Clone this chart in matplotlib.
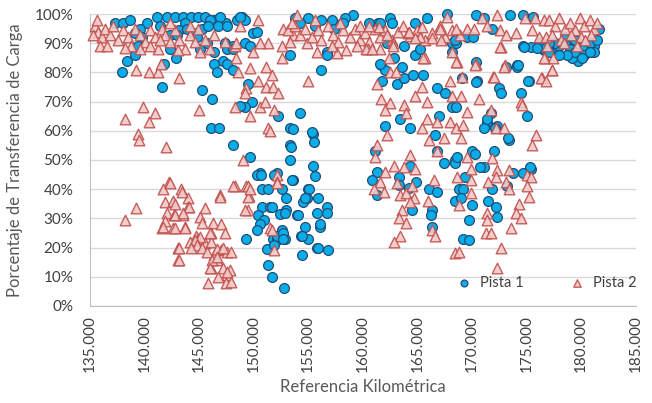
import matplotlib
matplotlib.use("Agg")
import matplotlib.pyplot as plt
from matplotlib.ticker import PercentFormatter, FuncFormatter

# Pista 1 (km in thousands, % transfer)
p1_km = [137.3,138.0,138.7,140.2,141.1,142.1,142.8,143.5,144.3,144.9,146.4,147.5,148.5,148.9,145.5,146.0,146.9,143.7,141.4,139.6,139.1,
         142.3,143.2,143.9,144.4,144.8,145.3,145.8,146.7,147.6,145.1,145.7,146.4,147.4,148.1,139.8,139.4,142.3,143.0,147.2,147.6,146.4,146.6,148.1,147.6,148.1,149.2,149.9,150.3,149.7,149.2,148.7,
         137.9,138.4,139.1,141.6,141.8,142.9,145.3,146.2,146.1,146.8,148.1,149.7,150.6,150.3,150.8,151.3,152.1,153.3,153.3,153.3,153.6,154.2,152.2,149.8,149.2,148.7,149.5,155.4,155.5,155.4,155.6,155.0,156.2,156.7,
         150.7,151.9,153.5,152.6,153.0,155.1,154.9,154.5,155.9,150.8,151.5,153.0,152.4,150.4,150.9,150.6,150.3,152.6,154.0,155.8,156.7,156.7,156.1,154.7,154.3,155.0,149.3,151.2,151.8,152.9,152.1,151.9,152.1,155.8,156.8,154.4,151.3,151.7,152.8,
         153.6,155.3,153.4,154.7,151.7,152.9,154.1,156.1,152.7,152.7,154.4,155.9,
         153.8,155.0,156.2,157.2,158.1,159.1,153.3,156.7,154.2,155.6,158.4,157.4,
         158.2,161.4,162.5,162.7,164.8,165.9,167.7,170.4,173.5,174.7,175.6,162.2,163.8,164.8,165.2,168.4,169.5,170.1,161.7,162.0,163.6,163.1,163.8,164.6,165.5,166.8,167.5,168.2,170.5,174.1,
         161.6,160.6,168.2,168.2,161.6,162.9,161.8,163.4,164.3,162.0,167.0,166.6,166.8,167.4,168.4,161.1,161.3,160.8,161.3,163.3,164.3,163.3,164.2,164.9,164.5,166.1,166.8,166.3,166.2,166.3,168.4,168.4,
         171.1,171.8,174.7,175.4,176.6,168.5,170.4,174.1,173.1,169.1,170.4,172.5,172.7,175.2,174.5,175.0,168.5,171.7,171.4,171.1,172.3,173.4,170.0,170.3,172.0,168.6,171.1,173.8,174.7,175.4,173.2,171.8,169.4,168.8,169.2,169.0,170.0,171.5,172.2,172.3,169.7,169.2,169.7,
         181.2,181.2,179.7,179.2,179.9,177.8,176.5,174.8,176.2,174.2,175.1,173.3,172.1,171.4,168.4,170.7,175.3,
         178.5,179.0,179.4,180.3,180.8,180.3,180.8,178.0,177.6,177.1,176.7,178.5,179.4,181.5,181.6,178.7,180.1,178.0,177.1,176.0]
p1_pct = [97,97,98,97,99,99,99,99,99,99,98,97,98,99,99,98,99,97,96,95,93.5,
          93,94.5,95,93.5,92,95,96,96,96,88,90,87,90,89,92,89,88,93,84,83,83,80,81,88,88,90,93.5,94,89,98,99,
          80,84,86,75,83,85,74,71,61,61,55,51,45.5,45,40,40,45.5,61,55,50,43,66,65,70,68,68.5,76,59,56,48,44.5,40,81,87,
          45,45,43,40,37,40,37,35.5,37,34,34,33,31.5,31,29.5,28,26,26,31,32,34,32,27,27,24,23,23,19.5,23,23,22.6,21,24,20,19,17.5,14,10,6,
          60.6,59.6,54.5,37,34,32,31,28,25,23,24,20,
          98.6,98.6,98,98,97,99.6,86,86,97,96,98.6,95,
          97,97,98.6,97,97,98.6,100,99.6,99.6,99.6,99,90,89,86,88,90,92,92,82.5,81,82,76,78,79,79,74.6,73,68,77,82.5,
          97,97,90,87,83,85,77,64,61,61.6,65,58.5,53,49,50,53,46,43,38,44,48,41.4,40.4,42.5,33,40,39,33,31,27,36,49,
          98.6,95,89,88.7,87.6,90,83.6,82,82,78,76.7,74.6,73,77,73,65,68,66,63,61,61.6,57,53,52,53,51,47.6,45.5,45.5,47,41,40,44,40,40,37,34.6,36,34,30.5,29.5,23,22.6,
          89,87,84,85,87,88,88,88.7,90,82.5,77,57.5,61,64,91,47.6,47.6,
          90,88,87,89,90,86,87,89,90,90,88.4,92,91,91,95,86,85,86,87,88.4]

# Pista 2
p2_km = [135.5,135.7,136.1,136.4,136.8,137.1,137.6,138.0,138.5,138.8,139.1,139.6,140.0,140.5,141.0,141.2,141.6,141.9,142.3,142.8,143.2,143.7,144.2,144.6,144.9,145.5,146.0,146.4,135.9,136.6,138.2,135.6,140.5,142.3,141.4,143.1,145.1,135.3,139.6,144.2,147.4,148.3,
         139.2,140.4,141.2,141.5,139.9,141.0,138.2,140.4,139.4,139.5,142.0,142.2,141.7,141.9,142.6,139.2,138.2,142.1,142.7,141.9,141.6,142.6,143.1,143.1,143.2,
         145.0,150.4,148.7,148.4,148.4,148.6,149.7,151.1,150.4,151.3,150.6,149.9,149.3,151.1,149.2,148.3,149.7,150.6,151.0,151.3,149.0,148.3,149.3,149.6,146.9,149.5,
         143.3,144.0,144.0,145.5,145.1,143.5,143.7,145.3,146.3,147.0,147.4,144.7,146.1,144.9,144.2,145.5,146.1,147.0,147.6,147.9,143.2,146.4,146.6,146.1,147.2,147.8,147.6,146.7,145.8,147.5,147.9,143.2,
         142.3,143.4,142.8,144.1,142.8,143.5,141.7,142.8,143.7,146.0,145.1,144.6,144.8,144.3,145.3,145.7,146.6,147.2,146.2,146.6,146.0,147.6,146.9,148.1,149.5,149.2,149.5,149.7,151.5,151.9,152.1,152.1,
         154.0,152.7,152.6,152.6,153.6,154.9,155.8,157.6,158.5,155.0,151.7,151.8,152.2,151.9,151.5,152.1,151.7,
         153.1,153.8,154.2,154.7,155.3,155.9,156.2,156.8,157.3,157.7,158.2,158.8,159.3,159.7,160.2,160.6,161.1,161.6,162.0,162.7,163.2,163.7,164.3,165.0,165.7,166.3,167.1,167.5,168.2,168.9,169.5,153.5,155.6,157.9,159.7,153.3,157.2,159.5,161.6,160.5,162.8,164.1,165.2,166.3,167.2,
         165.7,168.2,168.6,170.4,169.1,168.0,171.9,172.7,173.0,176.4,177.3,176.7,177.4,
         161.3,161.7,162.5,162.0,163.8,164.0,164.8,165.4,165.9,165.9,166.8,165.4,162.2,161.3,161.1,162.9,163.8,164.3,164.8,162.0,161.6,161.0,161.9,163.1,163.4,164.0,164.5,164.7,164.3,163.6,163.3,164.0,163.4,162.9,166.0,166.5,166.3,166.6,167.4,166.8,166.1,168.0,168.2,
         162.4,162.5,163.0,164.2,164.8,165.5,165.4,167.1,167.7,160.3,160.8,160.6,161.5,162.2,162.8,168.4,
         170.9,172.3,170.2,171.4,172.6,173.1,174.0,174.9,175.8,176.6,175.5,176.1,176.8,172.6,176.6,168.5,168.5,170.3,172.9,172.0,176.3,169.0,170.6,174.5,174.6,169.5,171.7,168.5,169.2,169.0,172.2,172.9,175.9,175.5,
         169.5,171.8,169.9,168.6,172.3,173.4,172.2,171.5,169.9,173.1,175.0,175.4,175.0,173.4,169.9,175.2,168.8,174.3,174.0,174.5,171.4,171.4,171.3,171.7,173.6,168.8,172.7,172.3,
         177.1,177.6,178.0,178.5,179.0,179.4,179.9,180.3,180.8,181.2,181.5,177.3,178.2,179.1,180.0,180.9,177.3,176.8,178.4,180.4,176.9,179.6]
p2_pct = [96,94,92,95,93,96,91,94.5,92,89,95,93,90.5,94.5,92,88,95,93,90.5,94.5,91,88,93,90.5,95,91,88,93,89,89,88.5,98,89,97,91,87.7,87,93,88,96,90.5,89,
          81,80,80,83,68,66,64,63,59,57,54.5,42.5,40,35.6,36,33.6,29.5,32,31,29,26.7,26.7,20,15.7,78,
          67,98,96,90,85,80,81.5,82,77,90,90,87,74.6,75,73,68,65,68,70,61,50,41,41,37.5,38,33,
          40,37,34,33.6,30.5,31,27,28.4,28.4,28,25,24,25,23,22,21.6,22,19,18.5,18.5,20,17.5,15.7,13,13,12.3,10.6,10,8,8,8.2,15.7,
          42,39,35,34,31,32,27,26.7,26.7,25,23.6,22.6,21,20,20,18.5,19.5,20,15.7,16.8,13,11.6,37.3,41,41,33,37.3,40,26.7,19,45,42.5,
          99.6,95,89,85,93,90,87,86.6,87.6,77,79,75,73,67,60,42,26,
          94.5,96,93,95,92,94.5,91,96,93,90.5,94.5,92,95,91,93.5,90.5,95,92,94.5,91,94,96,92.5,94.5,91,93.5,96,92,94.5,93,95,97,98,97,96,90.5,89,89,88,88,90,93.5,92,91.8,91,
          85,87,83.6,83,78.5,77,78.5,88.7,82.5,78,81,85,85,
          76,71,69.5,67,69,66,72,75,70,64,63,61,58.5,55,51,48,47.6,51.7,47,46,42.5,40,39,42,38,38.7,41,37,35.6,33,30,28.4,24,22,36,43,26,24,57.5,53,57,63,72,
          85,80,80,94,91.8,85,95.5,95,99,88,88,96,95.5,93,89,18,
          98.6,99.6,95,96,94.5,93,93.5,98.6,98.6,98,94.5,92,92,88.7,85,95,83.6,82.5,82,78.5,78,72,71,70,69,66.4,67,61,62,57.5,61,61,58.5,55,
          51,50.7,47,44,46.6,46.6,44,42.5,43,42.5,45,44,41,40,38.7,37.3,34.6,35,32,30,32,29.5,25,25,26.7,18.5,20,13,
          98,96,98.6,95,97,94.5,98.6,96,98,95,97,93,91,93,92,93,81,77,90,91,89,89]

y_ticks = [0, 10, 20, 30, 40, 50, 60, 70, 80, 90, 100]
x_ticks = [135, 140, 145, 150, 155, 160, 165, 170, 175, 180, 185]

plt.rcParams['font.family'] = ['Lato', 'DejaVu Sans']
txt = '#595959'
tick_col = '#404040'

fig = plt.figure(figsize=(6.52, 4.03), dpi=100)
ax = fig.add_axes([0.138, 0.241, 0.837, 0.724])

ax.scatter(p1_km, p1_pct, s=50, marker='o', facecolor='#0AADE8', edgecolor='#1F4E79',
           linewidth=0.9, label='Pista 1', zorder=3, clip_on=False)
ax.scatter(p2_km, p2_pct, s=58, marker='^', facecolor='#F2C9C8', edgecolor='#C0504D',
           linewidth=1.0, label='Pista 2', zorder=4, alpha=0.9, clip_on=False)

ax.set_xlim(135, 185)
ax.set_ylim(0, 100)
ax.set_xticks(x_ticks)
ax.set_yticks(y_ticks)
ax.xaxis.set_major_formatter(FuncFormatter(lambda v, p: f"{v:.3f}"))
ax.yaxis.set_major_formatter(PercentFormatter(100, decimals=0))
ax.tick_params(axis='x', rotation=90, labelsize=11, colors=tick_col, length=0, pad=7)
ax.tick_params(axis='y', labelsize=11, colors=tick_col, length=0, pad=12)
ax.grid(axis='y', color='#D9D9D9', linewidth=1)
ax.set_axisbelow(True)
for s in ['top', 'right']:
    ax.spines[s].set_visible(False)
for s in ['left', 'bottom']:
    ax.spines[s].set_color('#BFBFBF')

ax.set_ylabel('Porcentaje de Transferencia de Carga', fontsize=12, color=txt, labelpad=8)
ax.set_xlabel('Referencia Kilométrica', fontsize=12, color=txt, labelpad=5)

leg = ax.legend(loc='center right', bbox_to_anchor=(1.025, 0.08), ncol=2, frameon=False,
                fontsize=10.5, markerscale=0.7, handletextpad=0.1, columnspacing=2.6)
for t in leg.get_texts():
    t.set_color(tick_col)

fig.savefig('out.png', dpi=100)
